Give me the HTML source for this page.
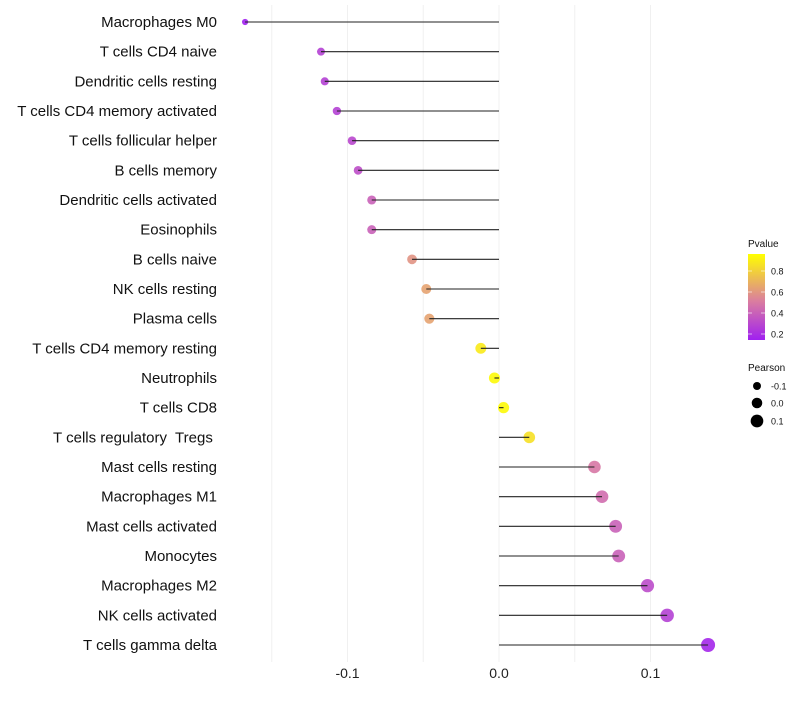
<!DOCTYPE html>
<html><head><meta charset="utf-8"><style>
body{margin:0;background:#fff;font-family:"Liberation Sans",sans-serif}
text{white-space:pre}
</style></head><body>
<svg id="chart" width="800" height="700" xmlns="http://www.w3.org/2000/svg"></svg>
<script>
const categories=["Macrophages M0","T cells CD4 naive","Dendritic cells resting","T cells CD4 memory activated","T cells follicular helper","B cells memory","Dendritic cells activated","Eosinophils","B cells naive","NK cells resting","Plasma cells","T cells CD4 memory resting","Neutrophils","T cells CD8","T cells regulatory  Tregs ","Mast cells resting","Macrophages M1","Mast cells activated","Monocytes","Macrophages M2","NK cells activated","T cells gamma delta"];
const pearson=[-0.1676,-0.1175,-0.115,-0.107,-0.097,-0.093,-0.084,-0.084,-0.0574,-0.048,-0.046,-0.012,-0.003,0.003,0.020,0.063,0.068,0.077,0.079,0.098,0.111,0.138];
const pvalue=[0.15,0.3,0.3,0.3,0.33,0.36,0.45,0.45,0.65,0.7,0.7,0.93,0.98,0.98,0.9,0.55,0.5,0.45,0.45,0.35,0.3,0.18];
const xTicks=[-0.1,0.0,0.1];
const xTickLabels=["-0.1","0.0","0.1"];
const gridVals=[-0.15,-0.1,-0.05,0,0.05,0.1];
const NS="http://www.w3.org/2000/svg";
const svg=document.getElementById('chart');
const x=v=>499+v*1515;
const y=i=>22+i*(645-22)/(categories.length-1);
const r=v=>Math.sqrt(Math.max(4,31.2+129*v));
function col(p){const t=Math.max(0,Math.min(1,(p-0.15)/0.85));
 const a=[160,32,240],m=[218,125,160],b=[255,255,0];let c;
 if(t<0.5){const u=t/0.5;c=a.map((q,k)=>q+(m[k]-q)*u);}else{const u=(t-0.5)/0.5;c=m.map((q,k)=>q+(b[k]-q)*u);}
 return `rgb(${c.map(Math.round).join(',')})`;}
function mk(tag,at){const e=document.createElementNS(NS,tag);for(const k in at)e.setAttribute(k,at[k]);svg.appendChild(e);return e;}
gridVals.forEach(g=>{const l=mk('line',{x1:x(g),x2:x(g),y1:5,y2:662,stroke:'#f0f0f0','stroke-width':1});

});
xTicks.forEach((t,i)=>{const e=mk('text',{x:x(t),y:678,'text-anchor':'middle','font-size':14,fill:'#222'});e.textContent=xTickLabels[i];

});
categories.forEach((c,i)=>{
 const t=mk('text',{x:217,y:y(i)+5,'text-anchor':'end','font-size':15,fill:'#111'});t.textContent=c;
 
 
 const p=mk('circle',{cx:x(pearson[i]),cy:y(i),r:r(pearson[i]),fill:col(pvalue[i]),'fill-opacity':0.9});
 
 
 const l=mk('line',{x1:x(0),x2:x(pearson[i]),y1:y(i),y2:y(i),stroke:'#222','stroke-width':1.1});
 
 
});
const defs=mk('defs',{});
defs.innerHTML='<linearGradient id="g" x1="0" y1="1" x2="0" y2="0"><stop offset="0" stop-color="#a020f0"/><stop offset="0.45" stop-color="#da7da0"/><stop offset="1" stop-color="#ffff00"/></linearGradient>';
const lt=mk('text',{x:748,y:247,'font-size':10,fill:'#111'});lt.textContent='Pvalue';


const bar=mk('rect',{x:748,y:254,width:17,height:86,fill:'url(#g)'});


[0.2,0.4,0.6,0.8].forEach(v=>{const yy=334-(v-0.2)/0.6*63;
 mk('line',{x1:748,x2:752,y1:yy,y2:yy,stroke:'#fff','stroke-opacity':0.6});
 mk('line',{x1:761,x2:765,y1:yy,y2:yy,stroke:'#fff','stroke-opacity':0.6});
 const e=mk('text',{x:771,y:yy+3.5,'font-size':9,fill:'#111'});e.textContent=v.toFixed(1);
 
 });
const pt=mk('text',{x:748,y:371,'font-size':10,fill:'#111'});pt.textContent='Pearson';


[[-0.1,386],[0.0,403],[0.1,421]].forEach(([v,yy])=>{
 const c=mk('circle',{cx:757,cy:yy,r:r(v)-0.3,fill:'#000'});
 
 
 const e=mk('text',{x:771,y:yy+3.5,'font-size':9,fill:'#111'});e.textContent=v.toFixed(1);
 
 });
</script>
</body></html>
